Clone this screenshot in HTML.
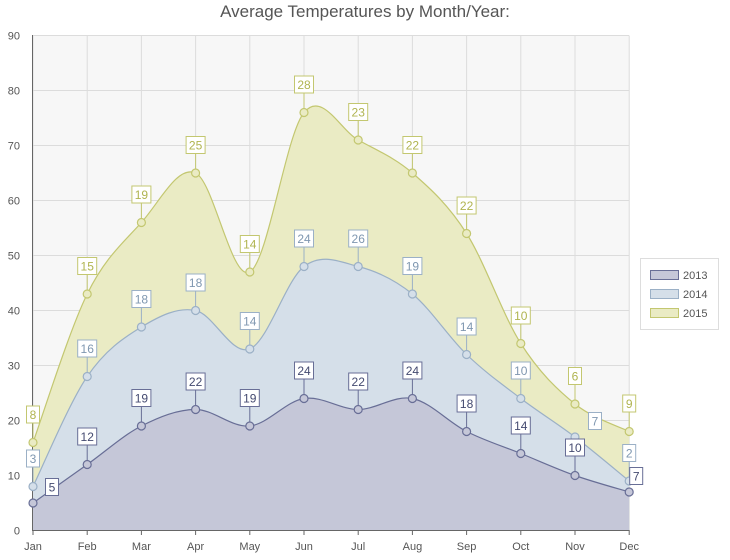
<!DOCTYPE html>
<html><head><meta charset="utf-8"><style>
body{margin:0;background:#fff;width:730px;height:555px;overflow:hidden;font-family:"Liberation Sans",sans-serif}
</style></head><body>
<svg id="s" width="730" height="555" xmlns="http://www.w3.org/2000/svg" font-family="Liberation Sans, sans-serif"></svg>
<script>
const s=document.getElementById('s');
const X0=33,DX=54.2,Y0=530.5,K=5.5;
const xs=i=>X0+i*DX, ys=v=>Y0-v*K;
const m=['Jan','Feb','Mar','Apr','May','Jun','Jul','Aug','Sep','Oct','Nov','Dec'];
let h='<text x="365" y="17" text-anchor="middle" font-size="17" fill="#555">Average Temperatures by Month/Year:</text>';
h+=`<rect x="33" y="35.5" width="596" height="495" fill="#f7f7f7"/>`;
for(let v=0;v<=90;v+=10){h+=`<line x1="33" x2="629" y1="${ys(v)}" y2="${ys(v)}" stroke="#dcdcdc"/>`;
h+=`<text x="20" y="${ys(v)+4}" text-anchor="end" font-size="11" fill="#555">${v}</text>`;}
for(let i=0;i<12;i++){h+=`<line x1="${xs(i)}" x2="${xs(i)}" y1="35.5" y2="530.5" stroke="#dcdcdc"/>`;}
const S=[
{c:[16,43,56,65,47,76,71,65,54,34,23,18],l:[8,15,19,25,14,28,23,22,22,10,6,9],f:'#eaebc4',st:'#c3c770',t:'#b0b450'},
{c:[8,28,37,40,33,48,48,43,32,24,17,9],l:[3,16,18,18,14,24,26,19,14,10,7,2],f:'#d5dfe9',st:'#9bb0c6',t:'#7f97b0'},
{c:[5,12,19,22,19,24,22,24,18,14,10,7],l:[5,12,19,22,19,24,22,24,18,14,10,7],f:'#c5c7d8',st:'#686e96',t:'#444a70'}];
function path(c){const p=c.map((v,i)=>[xs(i),ys(v)]);let d=`M${p[0][0]},${p[0][1]}`;
for(let i=0;i<p.length-1;i++){const a=p[Math.max(0,i-1)],b=p[i],c2=p[i+1],e=p[Math.min(p.length-1,i+2)];
const t=1/6;d+=` C${b[0]+(c2[0]-a[0])*t},${b[1]+(c2[1]-a[1])*t} ${c2[0]-(e[0]-b[0])*t},${c2[1]-(e[1]-b[1])*t} ${c2[0]},${c2[1]}`;}return d;}
S.forEach(o=>{const d=path(o.c);h+=`<path d="${d} L${xs(11)},${Y0} L${xs(0)},${Y0}Z" fill="${o.f}"/>`;h+=`<path d="${d}" fill="none" stroke="${o.st}" stroke-width="1.2"/>`;});
h+=`<line x1="33" x2="629" y1="${Y0}" y2="${Y0}" stroke="#666"/><line x1="32.5" x2="32.5" y1="35" y2="531" stroke="#666"/>`;
for(let i=0;i<12;i++){h+=`<line x1="${xs(i)}" x2="${xs(i)}" y1="530" y2="535" stroke="#666"/><text x="${xs(i)}" y="550" text-anchor="middle" font-size="11" fill="#555">${m[i]}</text>`;}
S.forEach((o,k)=>{o.c.forEach((v,i)=>{const x=xs(i),y=ys(v);let bx=x,by=y-28,lead=true;
if(k==2&&(i==0||i==11)){bx=x+(i==0?19:7);by=y-16;lead=false;}
if(k==1&&i==10){bx=x+20;by=y-16;lead=false;}
const w=String(o.l[i]).length>1?19:13;
if(lead)h+=`<line x1="${x}" x2="${x}" y1="${y}" y2="${by}" stroke="${o.st}"/>`;
h+=`<rect x="${bx-w/2}" y="${by-8.5}" width="${w}" height="17" fill="#fff" stroke="${o.st}"/><text x="${bx}" y="${by+4.5}" text-anchor="middle" font-size="12" fill="${o.t}">${o.l[i]}</text>`;
h+=`<circle cx="${x}" cy="${y}" r="4" fill="${o.f}" stroke="${o.st}" stroke-width="1.2"/>`;});});
h+=`<rect x="640.5" y="258.5" width="78" height="71" fill="#fff" stroke="#ddd"/>`;
[['2013',2],['2014',1],['2015',0]].forEach((a,j)=>{const o=S[a[1]];h+=`<rect x="650.5" y="${270.5+j*19}" width="28" height="9" fill="${o.f}" stroke="${o.st}"/><text x="683" y="${279+j*19}" font-size="11" fill="#555">${a[0]}</text>`;});
s.innerHTML=h;
</script>
</body></html>
